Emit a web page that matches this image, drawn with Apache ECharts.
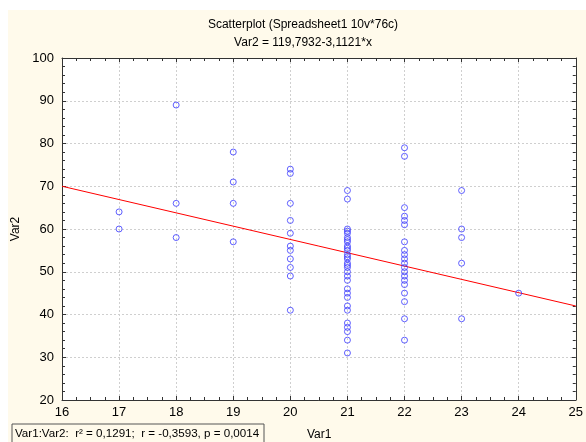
<!DOCTYPE html>
<html><head><meta charset="utf-8">
<script src="https://cdn.jsdelivr.net/npm/echarts@6/dist/echarts.min.js"></script>
<style>html,body{margin:0;padding:0;background:#fff}#c{width:586px;height:442px}</style>
</head><body><div id="c"></div>
<script>
const var1Groups = [17, 18, 19, 20, 21, 22, 23, 24];
const var2_at17 = [64, 60];
const var2_at18 = [89, 66, 58];
const var2_at19 = [78, 71, 66, 57];
const var2_at20 = [74, 73, 66, 62, 59, 56, 55, 53, 51, 49, 41];
const var2_at21 = [69, 67, 60, 59.5, 59, 58, 57.5, 57, 56, 55.5, 55, 54, 53.5, 53, 52, 51.5, 51, 50, 49, 48, 46, 45, 44, 42, 41, 38, 37, 36, 34, 31];
const var2_at22 = [79, 77, 65, 63, 62, 61, 57, 55, 54, 53, 52, 51, 50, 49, 48, 47, 45, 43, 39, 34];
const var2_at23 = [69, 60, 58, 52, 39];
const var2_at24 = [45];
const groups = [var2_at17, var2_at18, var2_at19, var2_at20, var2_at21, var2_at22, var2_at23, var2_at24];
const intercept = 119.7932, slope = -3.1121;
const xTicks = [16, 17, 18, 19, 20, 21, 22, 23, 24, 25];
const yTicks = [20, 30, 40, 50, 60, 70, 80, 90, 100];

const points = [];
groups.forEach((g, i) => g.forEach(v => points.push([var1Groups[i], v])));
const fit = [xTicks[0], xTicks[xTicks.length - 1]].map(x => [x, intercept + slope * x]);

const font = 'Liberation Sans, Arial, sans-serif';
const chart = echarts.init(document.getElementById('c'), null, {renderer: 'canvas'});
const axisCommon = {
  type: 'value',
  axisLine: {show: true, lineStyle: {color: '#333', width: 1}},
  axisTick: {show: true, inside: true, length: 4, lineStyle: {color: '#333'}},
  axisLabel: {color: '#000', fontFamily: font, fontSize: 13},
  splitLine: {show: false}
};
const grid = {show: true, lineStyle: {color: '#cfcfcf', type: [2, 2], width: 1}};
chart.setOption({
  backgroundColor: '#fff',
  animation: false,
  graphic: [
    {type: 'rect', z: -10, shape: {x: 8, y: 10, width: 600, height: 440}, style: {fill: '#FFFAEB'}},
    {type: 'rect', z: 100, shape: {x: 12, y: 424, width: 252, height: 20}, style: {fill: '#FFFAEB', stroke: '#555', lineWidth: 1}},
    {type: 'text', z: 101, left: 15, top: 428, style: {text: 'Var1:Var2:  r² = 0,1291;  r = -0,3593, p = 0,0014', font: '11.6px ' + font, fill: '#000'}},
    {type: 'text', z: 101, left: 307, top: 429, style: {text: 'Var1', font: '12px ' + font, fill: '#000'}}
  ],
  title: {
    text: 'Scatterplot (Spreadsheet1 10v*76c)',
    subtext: 'Var2 = 119,7932-3,1121*x',
    left: 298, textAlign: 'center', top: 14, itemGap: 6,
    textStyle: {fontFamily: font, fontSize: 12, fontWeight: 'normal', color: '#000'},
    subtextStyle: {fontFamily: font, fontSize: 12, color: '#000'}
  },
  grid: {left: 62, right: 8, top: 58, bottom: 42, backgroundColor: '#fff', show: true, borderWidth: 0},
  xAxis: [
    Object.assign({}, axisCommon, {min: 16, max: 25, interval: 1,
      minorTick: {show: true, splitNumber: 4, length: 3, lineStyle: {color: '#333'}},
      axisLabel: {color: '#000', fontFamily: font, fontSize: 13, margin: 6},
      splitLine: grid}),
    Object.assign({}, axisCommon, {position: 'top', min: 16, max: 25, interval: 1,
      minorTick: {show: true, splitNumber: 4, length: 3, lineStyle: {color: '#333'}},
      axisLabel: {show: false}})
  ],
  yAxis: [
    Object.assign({}, axisCommon, {min: 20, max: 100, interval: 10,
      name: 'Var2', nameLocation: 'middle', nameGap: 32, nameRotate: 90,
      nameTextStyle: {fontFamily: font, fontSize: 12, color: '#000'},
      minorTick: {show: true, splitNumber: 5, length: 3, lineStyle: {color: '#333'}},
      axisLabel: {color: '#000', fontFamily: font, fontSize: 13, margin: 8},
      splitLine: grid}),
    Object.assign({}, axisCommon, {position: 'right', min: 20, max: 100, interval: 10,
      minorTick: {show: true, splitNumber: 5, length: 3, lineStyle: {color: '#333'}},
      axisLabel: {show: false}})
  ],
  series: [
    {type: 'line', data: fit, symbol: 'none', silent: true, z: 2,
      lineStyle: {color: '#ff0000', width: 1}},
    {type: 'scatter', data: points, symbol: 'circle', symbolSize: 6, z: 3,
      itemStyle: {color: 'rgba(255,255,255,0)', borderColor: '#3a3aff', borderWidth: 1}}
  ]
});
</script></body></html>
